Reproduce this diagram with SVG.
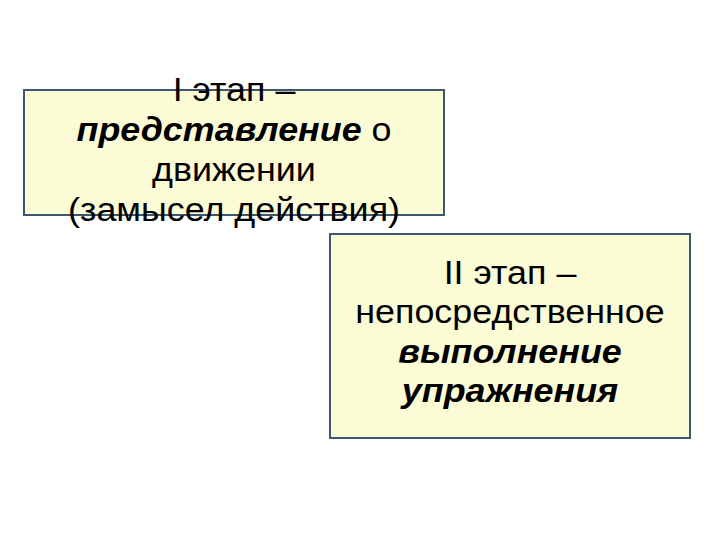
<svg xmlns="http://www.w3.org/2000/svg" width="720" height="540" viewBox="0 0 720 540">
<style>
.box{fill:#fbfbd6;stroke:#3e566f;stroke-width:2}
.t{font-family:"Liberation Sans",Arial,sans-serif;font-size:34px;fill:#000;text-anchor:middle}
.bi{font-weight:bold;font-style:italic}
</style>
<rect width="720" height="540" fill="#fff"/>
<g id="stage1">
<rect class="box" x="24" y="90" width="420" height="125"/>
<g transform="translate(234 0) scale(1.055 1)">
<text class="t" x="0" y="101">I этап –</text>
<text class="t" x="0" y="141"><tspan class="bi">представление</tspan> о</text>
<text class="t" x="0" y="181">движении</text>
<text class="t" x="0" y="221">(замысел действия)</text>
</g>
</g>
<g id="stage2">
<rect class="box" x="330" y="234" width="360" height="204"/>
<g transform="translate(510 0) scale(1.055 1)">
<text class="t" x="0" y="284">II этап –</text>
<text class="t" x="0" y="323">непосредственное</text>
<text class="t bi" x="0" y="363">выполнение</text>
<text class="t bi" x="0" y="402">упражнения</text>
</g>
</g>
<g id="connectors"/>
</svg>
